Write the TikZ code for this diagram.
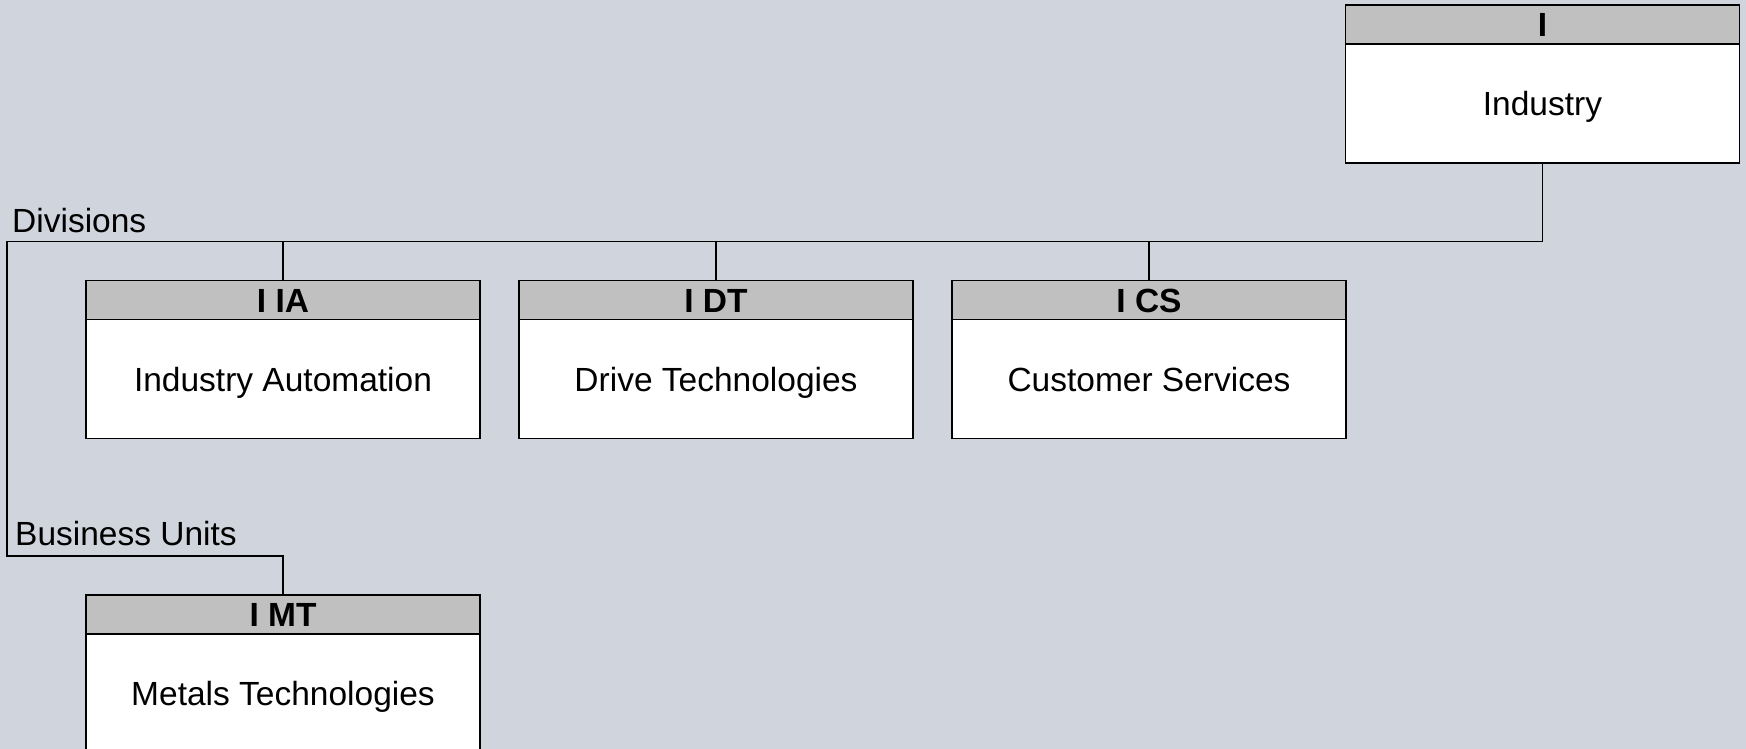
\documentclass[tikz,border=0pt]{standalone}
\usepackage{fontspec}
\setmainfont{Liberation Sans}
\usetikzlibrary{calc}
\definecolor{canvas}{RGB}{208,212,220}
\definecolor{headgray}{RGB}{192,192,192}
\tikzset{
  unitbox/.style={draw=black, line width=1.9pt, fill=white, rectangle,
    minimum width=394pt, minimum height=158pt, inner sep=0pt, outer sep=0pt, anchor=north},
  unithead/.style={draw=black, line width=1.9pt, fill=headgray, rectangle,
    minimum width=394pt, minimum height=39pt, inner sep=0pt, outer sep=0pt, anchor=north},
  headtext/.style={font=\fontsize{33.5}{40}\selectfont\bfseries, inner sep=0pt,
    text height=24pt, text depth=0pt, anchor=center},
  unitname/.style={font=\fontsize{33.5}{40}\selectfont, inner sep=0pt,
    text height=24pt, text depth=0pt, anchor=center},
  groupname/.style={font=\fontsize{33.5}{40}\selectfont, inner sep=0pt, anchor=base west},
  link/.style={draw=black, line width=1.9pt}
}
% one organisational unit: short code in the header, full name below
\newcommand{\orgunit}[5]{%
  \node[unitbox] (#1) at (#2,#3) {};
  \node[unithead] (#1-h) at (#1.north) {};
  \node[headtext] (#1-c) at (#1-h.center) {#4};
  \node[unitname] (#1-t) at ($(#1-h.south)!0.5!(#1.south)$) {#5};
}
\begin{document}
\begin{tikzpicture}[x=1pt,y=-1pt]
  \useasboundingbox (0,0) rectangle (1746,749);
  \fill[canvas] (0,0) rectangle (1746,749);
  \clip (0,0) rectangle (1746,749);

  \orgunit{I}{1542.5}{5}{I}{Industry}
  \orgunit{IA}{283}{280.5}{I IA}{Industry Automation}
  \orgunit{DT}{716}{280.5}{I DT}{Drive Technologies}
  \orgunit{CS}{1149}{280.5}{I CS}{Customer Services}
  \orgunit{MT}{283}{595}{I MT}{Metals Technologies}

  \coordinate (divcorner) at (7,241.5);
  \coordinate (bucorner) at (7,556);

  \node[groupname] (divlabel) at (12,232) {Divisions};
  \node[groupname] (bulabel) at (15,545) {Business Units};

  \draw[link] (I.south) |- (divcorner) -- (bucorner) -| (MT-h.north);
  \draw[link] (IA-h.north) -- (IA-h.north |- divcorner);
  \draw[link] (DT-h.north) -- (DT-h.north |- divcorner);
  \draw[link] (CS-h.north) -- (CS-h.north |- divcorner);
\end{tikzpicture}
\end{document}
